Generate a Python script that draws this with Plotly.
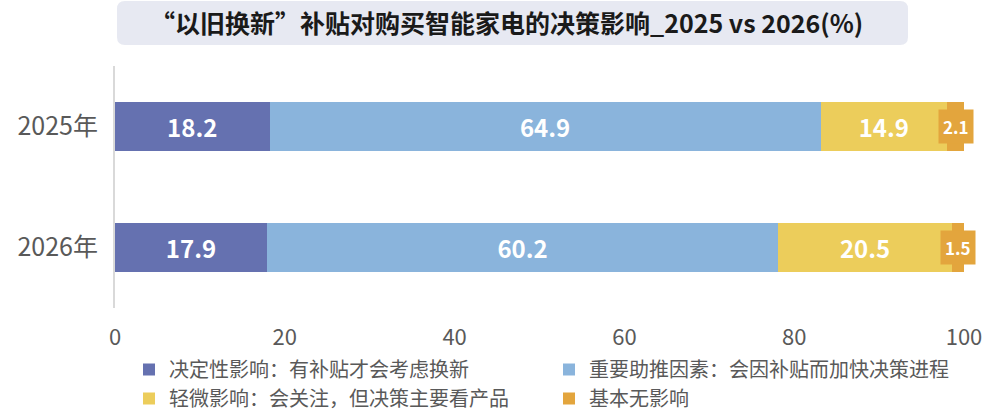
import plotly.graph_objects as go

categories = ["2025年", "2026年"]
series_names = ["决定性影响：有补贴才会考虑换新", "重要助推因素：会因补贴而加快决策进程",
                "轻微影响：会关注，但决策主要看产品", "基本无影响"]
decisive = [18.2, 17.9]
important = [64.9, 60.2]
slight = [14.9, 20.5]
none_ = [2.1, 1.5]
colors = ["#6571b0", "#8ab4dc", "#eccd5b", "#e3a53d"]
x_ticks = [0, 20, 40, 60, 80, 100]
title_text = "“以旧换新”补贴对购买智能家电的决策影响_2025 vs 2026(%)"

FONT = "Noto Sans CJK SC"
W, H = 991, 412
# plot area in screen pixels
pl, pr, pt, pb = 115, 964, 66, 308
ml, mr, mt, mb = pl, W - pr, pt, H - pb
pw, ph = pr - pl, pb - pt

def px2paper_x(px):
    return (px - pl) / pw

def px2paper_y(py):
    return (pb - py) / ph

fig = go.Figure()
all_series = [decisive, important, slight, none_]
for i, (name, vals) in enumerate(zip(series_names, all_series)):
    show_text = i < 3
    fig.add_trace(go.Bar(
        y=categories, x=vals, name=name, orientation="h",
        marker=dict(color=colors[i], line=dict(width=0)),
        width=0.4,
        text=[f"{v:.1f}" for v in vals] if show_text else None,
        textposition="inside" if show_text else "none",
        insidetextanchor="middle",
        textfont=dict(color="white", size=24, family=FONT, weight="bold"),
        hoverinfo="skip",
    ))

# small labels for the last segment
for cat, a, b, c, d in zip(categories, decisive, important, slight, none_):
    start = a + b + c
    fig.add_annotation(
        x=start + d / 2, y=cat, xref="x", yref="y",
        text=f"<b>{d:.1f}</b>", showarrow=False,
        font=dict(color="white", size=17, family=FONT),
        bgcolor=colors[3], borderpad=4,
    )

# rounded title box
x0, x1 = px2paper_x(117), px2paper_x(908)
y0, y1 = px2paper_y(45), px2paper_y(1)
rx, ry = 8 / pw, 8 / ph
path = (f"M {x0+rx},{y0} L {x1-rx},{y0} Q {x1},{y0} {x1},{y0+ry} "
        f"L {x1},{y1-ry} Q {x1},{y1} {x1-rx},{y1} L {x0+rx},{y1} "
        f"Q {x0},{y1} {x0},{y1-ry} L {x0},{y0+ry} Q {x0},{y0} {x0+rx},{y0} Z")
fig.add_shape(type="path", path=path, xref="paper", yref="paper",
              fillcolor="#e7e9f2", line=dict(width=0), layer="below")
fig.add_annotation(
    x=px2paper_x(506), y=px2paper_y(22), xref="paper", yref="paper",
    text=f"<b>{title_text}</b>", showarrow=False,
    font=dict(size=25, color="#1a1a1a", family=FONT),
    xanchor="center", yanchor="middle",
)

fig.update_layout(
    width=W, height=H,
    barmode="stack",
    margin=dict(l=ml, r=mr, t=mt, b=mb, autoexpand=False),
    paper_bgcolor="white", plot_bgcolor="white",
    font=dict(family=FONT, color="#595959"),
    showlegend=True,
    legend=dict(
        orientation="h", x=px2paper_x(129), xanchor="left",
        y=px2paper_y(350), yanchor="top",
        font=dict(size=20, color="#595959", family=FONT),
        entrywidth=375, entrywidthmode="pixels",
        itemwidth=30, tracegroupgap=0,
        traceorder="normal",
        bgcolor="rgba(0,0,0,0)",
    ),
    xaxis=dict(
        range=[0, 100], tickvals=x_ticks, ticktext=[str(t) for t in x_ticks],
        showgrid=False, zeroline=False, showline=False,
        tickfont=dict(size=22, color="#595959", family=FONT),
        ticks="", ticklabelstandoff=14, automargin=False,
    ),
    yaxis=dict(
        categoryorder="array", categoryarray=categories, autorange="reversed",
        showgrid=False, zeroline=False,
        showline=True, linecolor="#d9d9d9", linewidth=2,
        tickfont=dict(size=25, color="#595959", family=FONT),
        ticks="", ticklabelstandoff=10, automargin=False,
    ),
)

fig.write_html("out.html", config={"displayModeBar": False},
               post_script="document.body.style.margin='0';")
